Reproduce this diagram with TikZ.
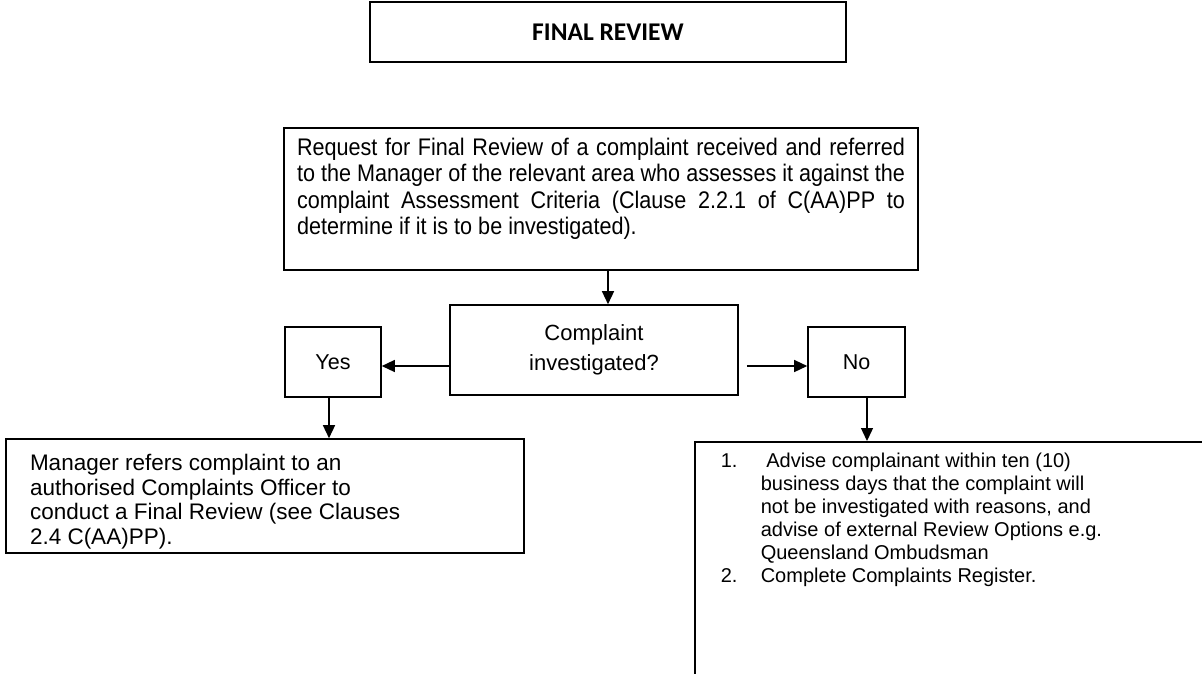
\documentclass[tikz,border=0pt]{standalone}
\usepackage{fontspec}
\setmainfont{Liberation Sans}
\newfontfamily\titlefont{Carlito}
\newfontfamily\narrowfont[FakeStretch=0.9]{Liberation Sans}
\usepackage{tikz}
\usetikzlibrary{positioning, arrows}
\usetikzlibrary{arrows.meta}

\begin{document}
\begin{tikzpicture}[x=1pt, y=-1pt,
    box/.style={draw, line width=1.6pt, inner sep=0pt},
    link/.style={-{Triangle[length=13pt,width=12pt]}, line width=1.4pt}]

    \useasboundingbox (0,0) rectangle (1202,673);
    \clip (0,0) rectangle (1202,673);

    % Define nodes
    \node[box, minimum width=476pt, minimum height=60pt] (title) at (608,32)
        {\titlefont\bfseries\fontsize{25.5pt}{30pt}\selectfont FINAL REVIEW};

    \node[box] (request) at (601,199)
        {\parbox[c][142pt][t]{634pt}{\narrowfont\fontsize{24pt}{26.5pt}\selectfont
         \tolerance=9999 \hbadness=10000 \parindent=0pt
         \leftskip=13pt \rightskip=13pt
         \vspace*{10pt}
         Request for Final Review of a complaint received and referred\linebreak
         to the Manager of the relevant area who assesses it against the\linebreak
         complaint Assessment Criteria (Clause 2.2.1 of C(AA)PP to\linebreak
         determine if it is to be investigated).}};

    \node[box, minimum width=288pt, minimum height=90pt, align=center,
          font=\fontsize{22pt}{30pt}\selectfont] (decide) at (594,350)
        {Complaint\\investigated?};

    \node[box, minimum width=96pt, minimum height=70pt,
          font=\fontsize{21.5pt}{25pt}\selectfont] (yes) at (333,362) {Yes};
    \node[box, minimum width=97pt, minimum height=70pt,
          font=\fontsize{21.5pt}{25pt}\selectfont] (no) at (856.5,362) {No};

    \node[box] (refer) at (265,496)
        {\parbox[c][114pt][t]{518pt}{\fontsize{22.5pt}{24.7pt}\selectfont
         \parindent=0pt \leftskip=24pt
         \vspace*{15pt}
         Manager refers complaint to an\\
         authorised Complaints Officer to\\
         conduct a Final Review (see Clauses\\
         2.4 C(AA)PP).}};

    \node[box, anchor=north west] (advise) at (694,441)
        {\parbox[c][260pt][t]{560pt}{\fontsize{20pt}{23pt}\selectfont
         \parindent=0pt \leftskip=66pt
         \vspace*{11pt}
         \noindent\llap{\makebox[40pt][l]{1.}} Advise complainant within ten (10)\\
         business days that the complaint will\\
         not be investigated with reasons, and\\
         advise of external Review Options e.g.\\
         Queensland Ombudsman\\
         \llap{\makebox[40pt][l]{2.}}Complete Complaints Register.}};

    \coordinate (downx) at (608,0);
    \coordinate (sidey) at (0,366);
    \coordinate (yesx) at (329,0);
    \coordinate (nox) at (867,0);

    % Draw edges with arrows
    \draw[link] (request.south -| downx) -- (decide.north -| downx);
    \draw[link] (decide.west |- sidey) -- (yes.east |- sidey);
    \draw[link, shorten <=8pt] (decide.east |- sidey) -- (no.west |- sidey);
    \draw[link] (yes.south -| yesx) -- (refer.north -| yesx);
    \draw[link] (no.south -| nox) -- (advise.north -| nox);

\end{tikzpicture}
\end{document}
